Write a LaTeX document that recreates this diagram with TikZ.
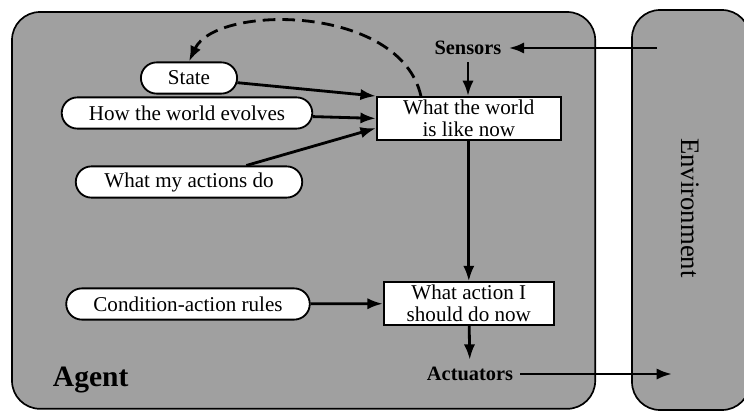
\documentclass[tikz,border=0pt]{standalone}
\usepackage{fontspec}
\setmainfont{Liberation Serif}
\usepackage{xcolor}
\definecolor{panelgray}{RGB}{160,160,160}
\usetikzlibrary{arrows.meta, shapes.misc}

\begin{document}
\begin{tikzpicture}[
  memory/.style={rounded rectangle, draw, line width=1.3pt, fill=white, minimum height=0.78cm, inner xsep=18pt, font=\fontsize{15}{15}\selectfont},
  stepbox/.style={rectangle, draw, line width=1.3pt, fill=white, align=center, inner sep=1pt, minimum height=1.07cm, font=\fontsize{15}{15.5}\selectfont},
  port/.style={font=\fontsize{14.5}{15}\selectfont\bfseries, inner sep=5pt},
  arr/.style={-{Latex[length=11pt,width=8pt]}, line width=2pt}
]
  \useasboundingbox (0,0) rectangle (18.6,10.3);
  \clip (0,0) rectangle (18.6,10.3);
  % Agent and environment panels
  \draw[line width=1.2pt, fill=panelgray, rounded corners=0.7cm] (0.3,0.08) rectangle (14.88,10.0);
  \draw[line width=1.2pt, fill=panelgray, rounded corners=0.7cm] (15.8,0.05) rectangle (18.75,10.05);
  \node[anchor=west, font=\fontsize{21}{21}\selectfont\bfseries] (agentlabel) at (1.2,0.8) {Agent};
  \node[rotate=-90, font=\fontsize{19}{19}\selectfont] (envlabel) at (17.25,5.1) {Environment};
  \coordinate (envin) at (16.43,9.1);
  \coordinate (envout) at (16.8,0.95);

  % Sensors / actuators
  \node[port] (sensors) at (11.7,9.1) {Sensors};
  \node[port] (actuators) at (11.75,0.95) {Actuators};

  % Internal state
  \node[memory] (state) at (4.725,8.35) {State};
  \node[memory] (evolves) at (4.675,7.475) {How the world evolves};
  \node[memory] (actions) at (4.725,5.75) {What my actions do};
  \node[memory] (rules) at (4.7,2.7) {Condition-action rules};

  % Boxes
  \node[stepbox, minimum width=4.6cm] (wtw) at (11.72,7.34) {What the world\\is like now};
  \node[stepbox, minimum width=4.25cm] (wai) at (11.72,2.71) {What action I\\should do now};

  % Connectors
  \draw[arr] (envin) -- (sensors);
  \draw[arr] (sensors) -- (sensors |- wtw.north);
  \draw[arr] (state) -- (wtw.north west);
  \draw[arr] (evolves) -- (wtw.west);
  \draw[arr] (actions) -- (wtw.186);
  \draw[arr] (wtw) -- (wai);
  \draw[arr] (rules) -- (wai);
  \draw[arr] (wai) -- (actuators);
  \draw[arr] (actuators) -- (envout);
  \draw[arr, dash pattern=on 9pt off 5pt] (wtw.155) .. controls (10.0,10.2) and (5.4,10.2) .. (state.north);
\end{tikzpicture}
\end{document}
